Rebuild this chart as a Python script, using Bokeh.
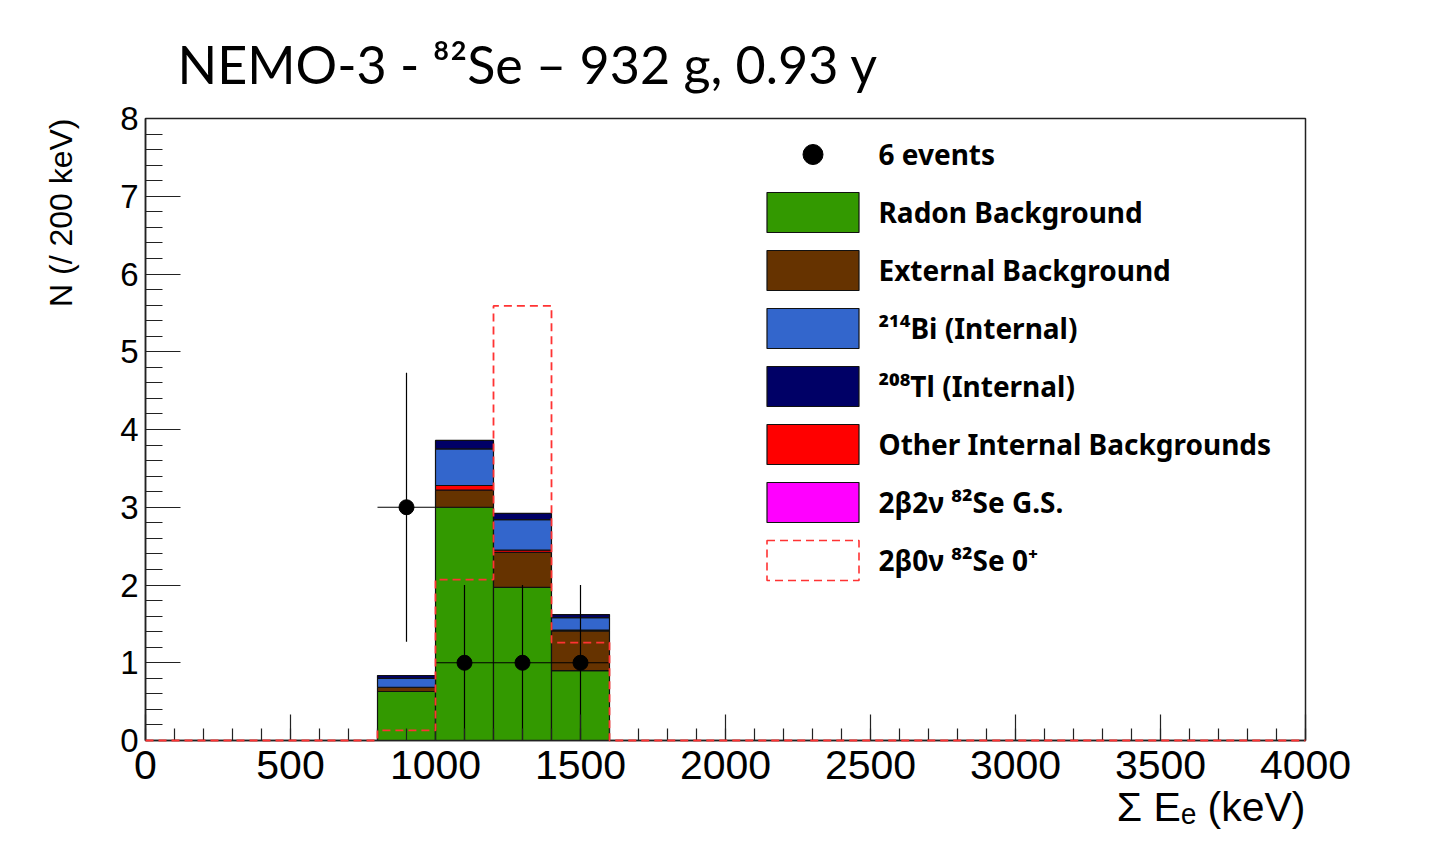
import numpy as np
from bokeh.plotting import figure
from bokeh.models import Range1d, SingleIntervalTicker, Legend, LegendItem, Title
from bokeh.embed import file_html
from bokeh.resources import INLINE

# ---------------- data ----------------
bin_lo = [800, 1000, 1200, 1400]
bin_width = 200
radon = [0.63, 3.00, 1.97, 0.90]
external = [0.055, 0.22, 0.45, 0.51]
other_internal = [0.0, 0.06, 0.03, 0.01]
two_nu_gs = [0.0, 0.0, 0.0, 0.0]
bi214 = [0.115, 0.47, 0.39, 0.16]
tl208 = [0.036, 0.11, 0.08, 0.04]

zero_nu_lo = [0, 200, 400, 600, 800, 1000, 1200, 1400, 1600, 1800,
              2000, 2200, 2400, 2600, 2800, 3000, 3200, 3400, 3600, 3800]
zero_nu = [0, 0, 0, 0, 0.13, 2.07, 5.59, 1.26, 0, 0,
           0, 0, 0, 0, 0, 0, 0, 0, 0, 0]
x_min, x_max = 0, 4000
y_min, y_max = 0, 8

data_x = [900, 1100, 1300, 1500]
data_n = [3, 1, 1, 1]
data_err = [1.73, 1.0, 1.0, 1.0]

title_text = "NEMO-3 - \u2078\u00b2Se \u2013 932 g, 0.93 y"
x_label = "\u03a3 E\u2091 (keV)"
y_label = "N (/ 200 keV)"

lbl_events = "6 events"
lbl_radon = "Radon Background"
lbl_ext = "External Background"
lbl_bi = "\u00b2\u00b9\u2074Bi (Internal)"
lbl_tl = "\u00b2\u2070\u2078Tl (Internal)"
lbl_other = "Other Internal Backgrounds"
lbl_2nu = "2\u03b22\u03bd \u2078\u00b2Se G.S."
lbl_0nu = "2\u03b20\u03bd \u2078\u00b2Se 0\u207a"

# ---------------- figure ----------------
p = figure(width=1440, height=850, x_range=Range1d(x_min, x_max), y_range=Range1d(y_min, y_max),
           output_backend="svg", toolbar_location=None,
           min_border_left=145, min_border_right=135, min_border_top=118, min_border_bottom=110,
           title=title_text)
p.background_fill_color = "white"
p.border_fill_color = "white"
p.xgrid.visible = False
p.ygrid.visible = False
p.outline_line_color = "#222222"
p.outline_line_width = 1.5

p.title.text_font = "Lato"
p.title.text_font_size = "52px"
p.title.text_font_style = "normal"
p.title.text_color = "black"
p.title.align = "left"
p.title.offset = 32
p.title.standoff = 47

# stacked histograms
left = np.array(bin_lo, dtype=float)
right = left + bin_width
layers = [
    (radon, "#339900", lbl_radon),
    (external, "#663300", lbl_ext),
    (other_internal, "#ff0000", lbl_other),
    (two_nu_gs, "#ff00ff", lbl_2nu),
    (bi214, "#3366cc", lbl_bi),
    (tl208, "#000066", lbl_tl),
]
base = np.zeros(len(bin_lo))
rend = {}
for vals, col, name in layers:
    top = base + np.array(vals)
    r = p.quad(left=left, right=right, bottom=base, top=top, fill_color=col,
               line_color="#111111", line_width=1.2)
    rend[name] = r
    base = top

# data points with errors
dx = np.array(data_x, dtype=float)
dn = np.array(data_n, dtype=float)
de = np.array(data_err, dtype=float)
p.segment(x0=dx, y0=dn - de, x1=dx, y1=dn + de, line_color="black", line_width=1.2)
p.segment(x0=dx - bin_width / 2, y0=dn, x1=dx + bin_width / 2, y1=dn, line_color="black", line_width=1.2)
pts = p.scatter(x=dx, y=dn, size=15, marker="circle", fill_color="black", line_color="black")
rend[lbl_events] = pts

# 0nu histogram (dashed step), drawn above axes like ROOT
zx = list(zero_nu_lo) + [x_max]
zy = list(zero_nu) + [zero_nu[-1]]
p.step(x=zx, y=zy, mode="after", line_color="#ff3333", line_dash="8 5", line_width=1.8, level="overlay")
zl = np.array(zero_nu_lo, dtype=float)
zero_leg = p.quad(left=zl, right=zl + bin_width, bottom=0, top=np.array(zero_nu), fill_color=None,
                  line_color="#ff3333", line_dash="8 5", line_width=1.6, visible=False)
rend[lbl_0nu] = zero_leg

# axes
xa = p.xaxis[0]
ya = p.yaxis[0]
xa.ticker = SingleIntervalTicker(interval=500, num_minor_ticks=5)
ya.ticker = SingleIntervalTicker(interval=1, num_minor_ticks=5)
for ax in (xa, ya):
    ax.axis_line_color = "#222222"
    ax.axis_line_width = 1.5
    ax.major_tick_line_color = "#222222"
    ax.minor_tick_line_color = "#222222"
    ax.major_tick_line_width = 1.2
    ax.minor_tick_line_width = 1.2
    ax.major_tick_out = 0
    ax.minor_tick_out = 0
    ax.major_label_text_font = "Liberation Sans"
    ax.major_label_text_color = "black"

xa.major_tick_in = 26
xa.minor_tick_in = 12
xa.major_label_text_font_size = "41px"
xa.major_label_standoff = 10

ya.major_tick_in = 35
ya.minor_tick_in = 17
ya.major_label_text_font_size = "33px"
ya.major_label_standoff = 7

# axis titles, aligned to the axis ends as in ROOT
xt = Title(text=x_label, align="right", text_font="Liberation Sans", text_font_size="41px",
           text_font_style="normal", text_color="black", standoff=0, offset=0)
p.add_layout(xt, "below")
yt = Title(text=y_label, align="right", text_font="Liberation Sans", text_font_size="32px",
           text_font_style="normal", text_color="black", standoff=78, offset=0)
p.add_layout(yt, "left")

# legend
order = [lbl_events, lbl_radon, lbl_ext, lbl_bi, lbl_tl, lbl_other, lbl_2nu, lbl_0nu]
items = [LegendItem(label=o, renderers=[rend[o]]) for o in order]

legend = Legend(items=items, location=(609.5, 155), background_fill_color="white",
                background_fill_alpha=1.0, border_line_color=None, padding=10, spacing=8,
                glyph_width=115, glyph_height=50, label_height=50, label_standoff=9, margin=0,
                label_text_font="Noto Sans", label_text_font_style="bold",
                label_text_font_size="28px", label_text_color="black",
                inactive_fill_alpha=0.0)
p.add_layout(legend)

open("out.html", "w").write(file_html(p, INLINE))
